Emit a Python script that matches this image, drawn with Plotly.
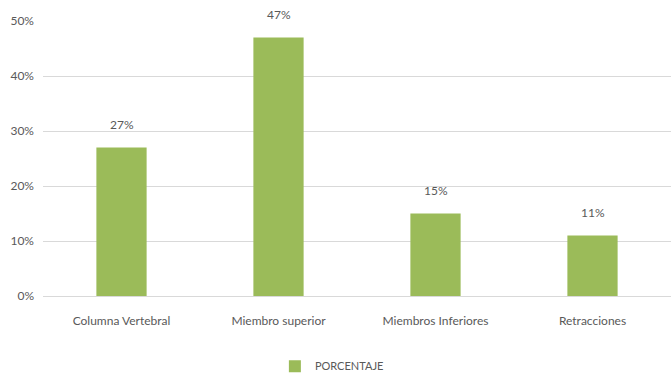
import plotly.graph_objects as go

categorias = ["Columna Vertebral", "Miembro superior", "Miembros Inferiores", "Retracciones"]
porcentajes = [0.27, 0.47, 0.15, 0.11]
serie = "PORCENTAJE"
etiquetas = [f"{round(v * 100)}%" for v in porcentajes]

FONT = "Lato, Open Sans, sans-serif"
GRIS = "#595959"

fig = go.Figure(
    go.Bar(
        x=categorias,
        y=porcentajes,
        name=serie,
        marker=dict(color="#9BBB59", line=dict(width=0)),
        showlegend=True,
    )
)

# etiquetas de valor sobre cada barra
for cat, val, txt in zip(categorias, porcentajes, etiquetas):
    fig.add_annotation(
        x=cat,
        y=val,
        text=txt,
        showarrow=False,
        yanchor="bottom",
        yshift=14,
        font=dict(family=FONT, size=12, color=GRIS),
    )

fig.update_layout(
    width=671,
    height=381,
    margin=dict(l=43, r=0, t=21, b=85),
    paper_bgcolor="white",
    plot_bgcolor="white",
    bargap=0.68,
    font=dict(family=FONT, size=12, color=GRIS),
    legend=dict(
        orientation="h",
        x=0.46,
        xanchor="center",
        y=-0.255,
        yanchor="middle",
        font=dict(family=FONT, size=11, color=GRIS),
        itemwidth=30,
    ),
    xaxis=dict(
        showline=True,
        linecolor="#D9D9D9",
        tickfont=dict(family=FONT, size=12, color=GRIS),
        ticks="",
        ticklabelstandoff=14,
    ),
    yaxis=dict(
        range=[0, 0.5],
        dtick=0.1,
        tickformat=".0%",
        gridcolor="#D9D9D9",
        zeroline=False,
        ticks="",
        ticklabelstandoff=8,
        tickfont=dict(family=FONT, size=12, color=GRIS),
    ),
)

fig.write_html("out.html")
